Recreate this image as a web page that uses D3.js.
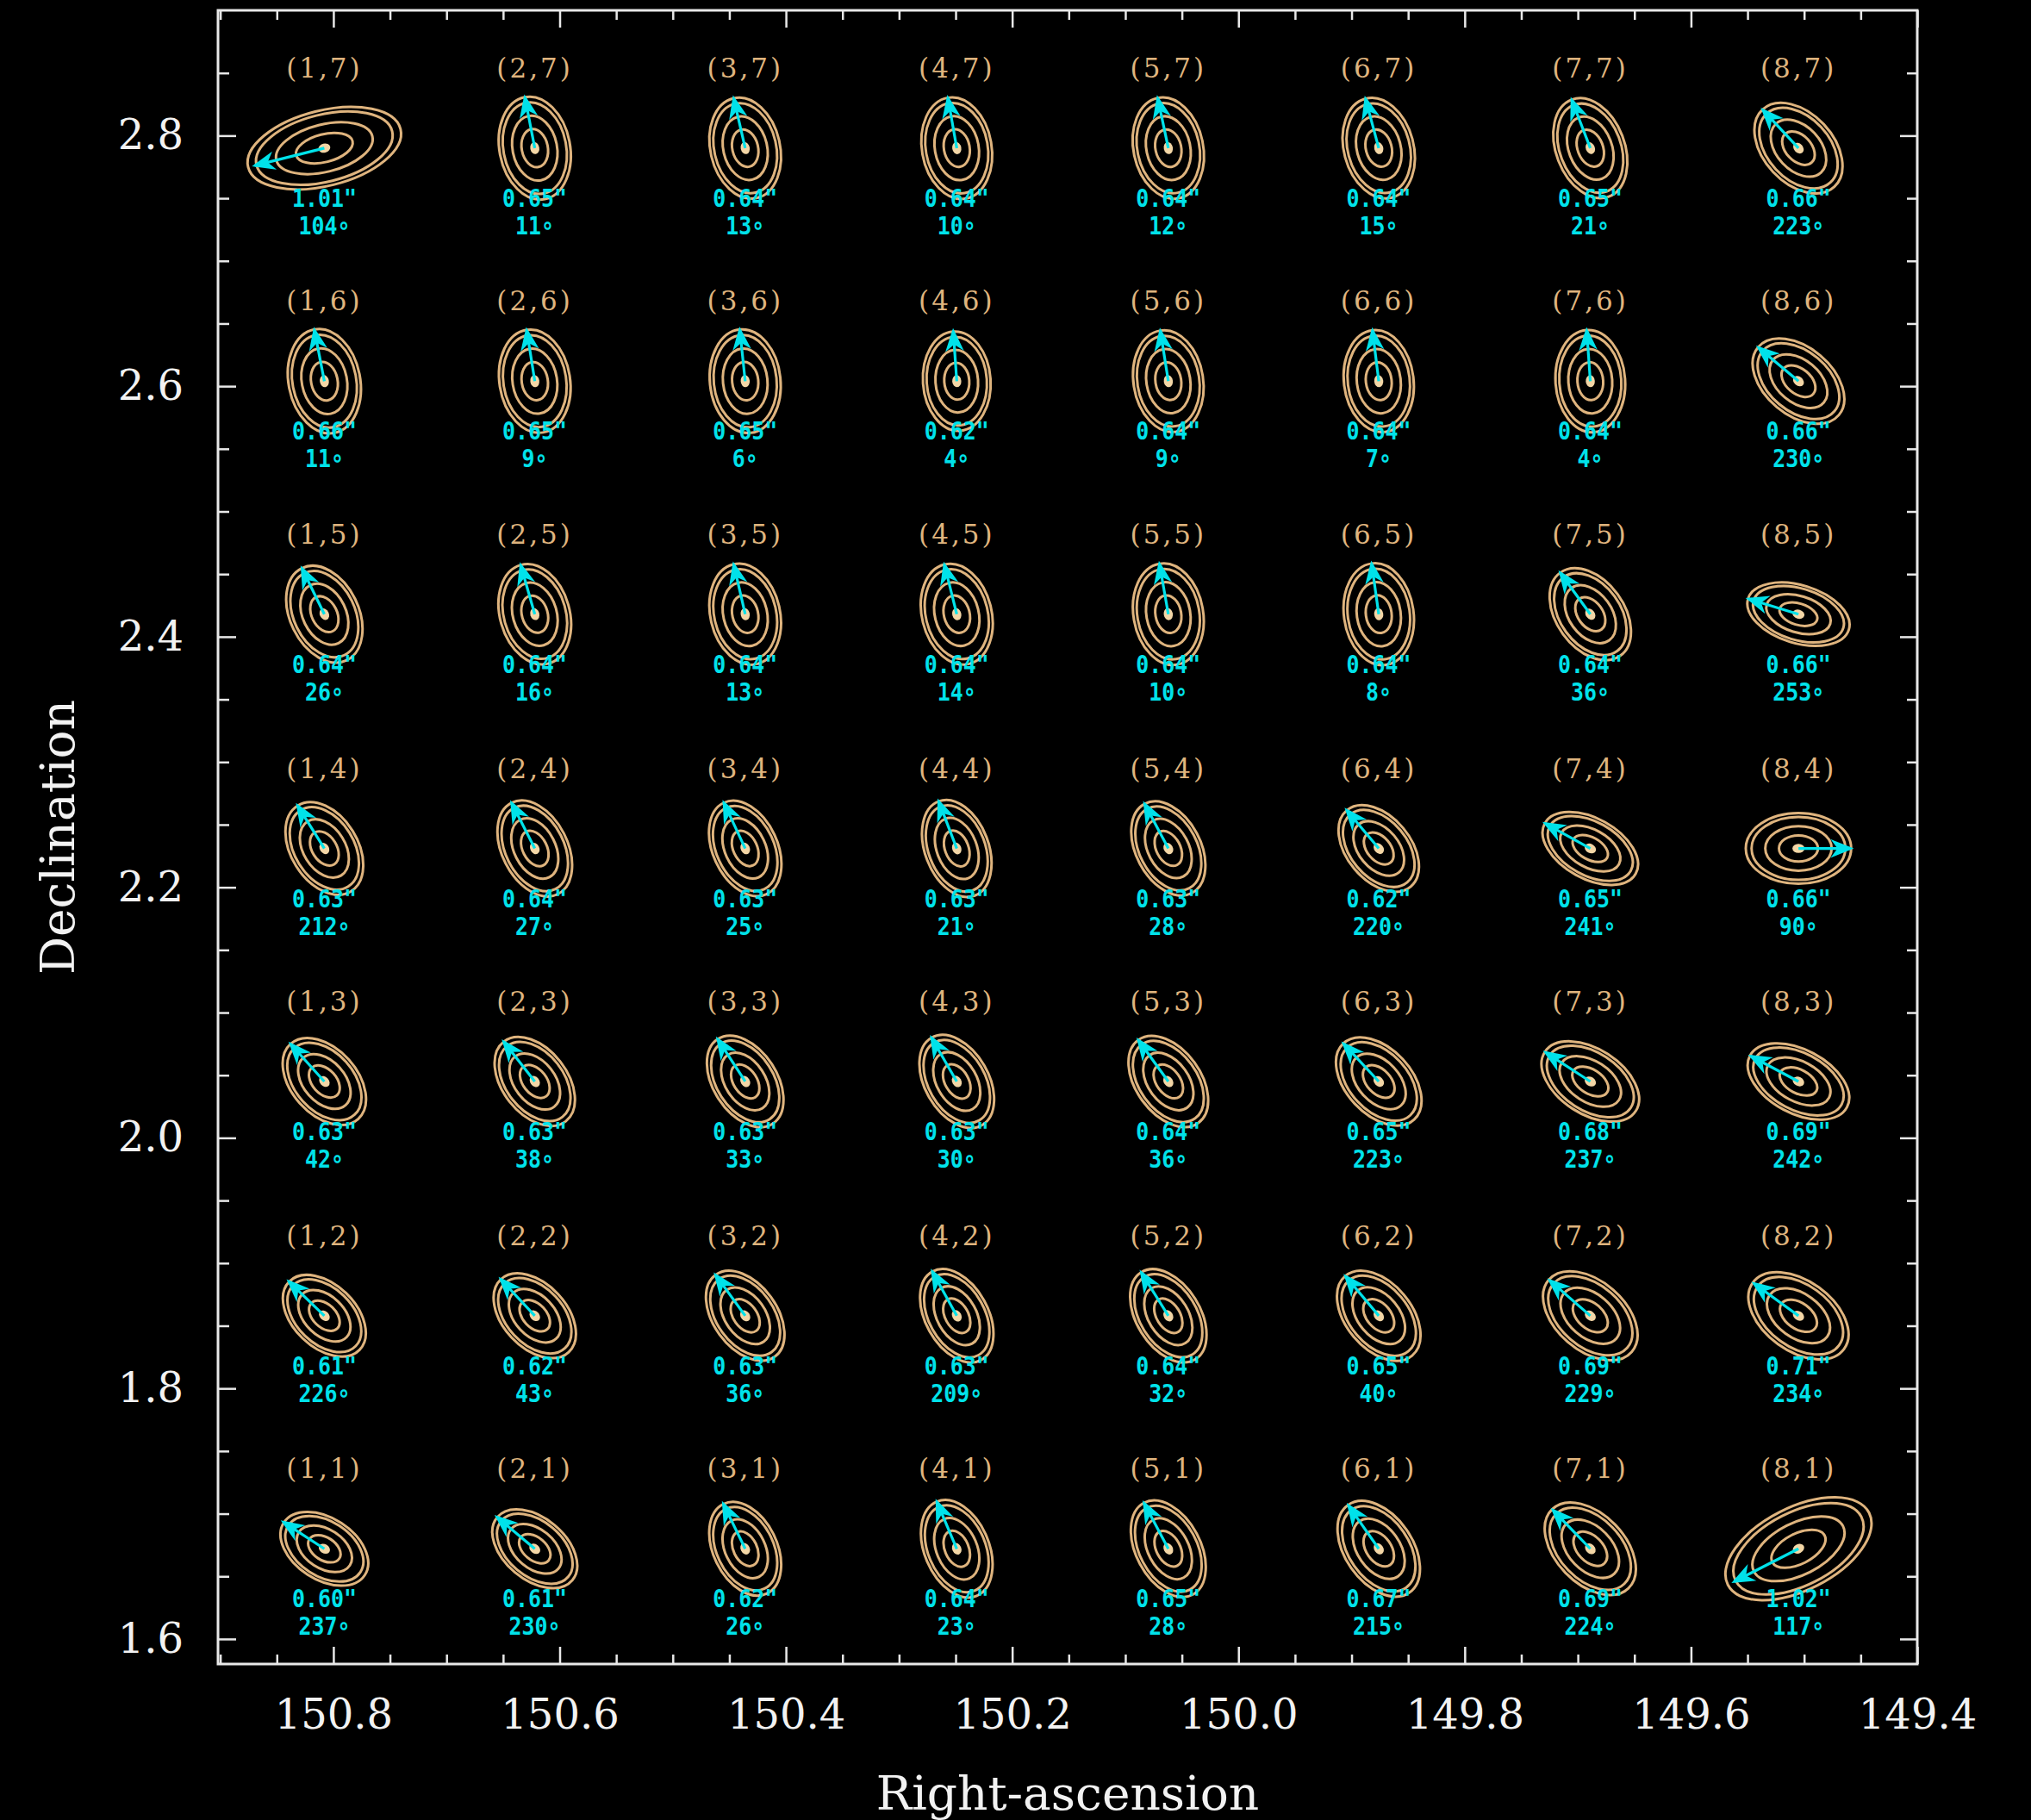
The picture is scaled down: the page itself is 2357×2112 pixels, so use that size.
<!DOCTYPE html>
<html>
<head>
<meta charset="utf-8">
<script src="https://cdn.jsdelivr.net/npm/d3@7"></script>
<style>
  body { margin: 0; background: #000; }
</style>
</head>
<body>
<div class="chart"></div>
<script>
// grid centres in degrees (columns 1..8, rows 1..7)
const raCentres = [150.808, 150.622, 150.436, 150.249, 150.062, 149.876, 149.689, 149.505];
const decCentres = [1.672, 1.858, 2.045, 2.231, 2.418, 2.604, 2.790];

// PSF FWHM in arcsec, one row per declination row (row 1 first), columns 1..8
const fwhm = [
    [0.60, 0.61, 0.62, 0.64, 0.65, 0.67, 0.69, 1.02],
    [0.61, 0.62, 0.63, 0.63, 0.64, 0.65, 0.69, 0.71],
    [0.63, 0.63, 0.63, 0.63, 0.64, 0.65, 0.68, 0.69],
    [0.63, 0.64, 0.63, 0.63, 0.63, 0.62, 0.65, 0.66],
    [0.64, 0.64, 0.64, 0.64, 0.64, 0.64, 0.64, 0.66],
    [0.66, 0.65, 0.65, 0.62, 0.64, 0.64, 0.64, 0.66],
    [1.01, 0.65, 0.64, 0.64, 0.64, 0.64, 0.65, 0.66]
];

// position angle in degrees
const posAngle = [
    [237, 230, 26, 23, 28, 215, 224, 117],
    [226, 43, 36, 209, 32, 40, 229, 234],
    [42, 38, 33, 30, 36, 223, 237, 242],
    [212, 27, 25, 21, 28, 220, 241, 90],
    [26, 16, 13, 14, 10, 8, 36, 253],
    [11, 9, 6, 4, 9, 7, 4, 230],
    [104, 11, 13, 10, 12, 15, 21, 223]
];

// minor/major axis ratio of the contours
const axisRatio = [
    [0.64, 0.63, 0.64, 0.63, 0.62, 0.63, 0.63, 0.52],
    [0.64, 0.64, 0.63, 0.62, 0.62, 0.63, 0.63, 0.62],
    [0.65, 0.64, 0.63, 0.63, 0.63, 0.63, 0.60, 0.58],
    [0.66, 0.64, 0.64, 0.63, 0.64, 0.64, 0.58, 0.67],
    [0.67, 0.68, 0.68, 0.68, 0.68, 0.68, 0.66, 0.55],
    [0.68, 0.68, 0.68, 0.68, 0.68, 0.68, 0.68, 0.64],
    [0.48, 0.68, 0.68, 0.68, 0.68, 0.68, 0.66, 0.66]
];

// arrows drawn the other way round
const flippedArrows = ["8,4"];

const xMajorTicks = [150.8, 150.6, 150.4, 150.2, 150.0, 149.8, 149.6, 149.4];
const yMajorTicks = [1.6, 1.8, 2.0, 2.2, 2.4, 2.6, 2.8];

const contourLevels = [1, 0.89, 0.63, 0.37];

// svg
const W = 2357, H = 2112;
const frame = {left: 253, right: 2225, top: 12, bottom: 1931};

const svg = d3.select(".chart").append("svg")
    .attr("width", W)
    .attr("height", H)
    .style("display", "block")
    .style("background", "#000");

const x = d3.scaleLinear().domain([150.902, 149.4]).range([frame.left, frame.right]);
const y = d3.scaleLinear().domain([1.58, 2.9]).range([frame.bottom, frame.top]);

const sizeScale = d3.scaleLinear().domain([0.60, 1.02]).range([56, 92]);
const arrowScale = d3.scaleLinear().domain([0.60, 1.02]).range([57, 84]);

const tan = "#dfb47e";
const cyan = "#00e2ea";
const axisColor = "#e8e8e8";

// build cells
const cells = [];
decCentres.forEach((dec, r) => {
    raCentres.forEach((ra, c) => {
        cells.push({
            col: c + 1, row: r + 1, ra, dec,
            fwhm: fwhm[r][c], pa: posAngle[r][c], q: axisRatio[r][c]
        });
    });
});

function direction(d) {
    const phi = (d.pa % 180) * Math.PI / 180;
    let dx = -Math.sin(phi), dy = -Math.cos(phi);
    if (flippedArrows.includes(d.col + "," + d.row)) { dx = -dx; dy = -dy; }
    return Math.atan2(dy, dx) * 180 / Math.PI;
}

// axes
function styleAxis(g) {
    g.select(".domain").remove();
    g.attr("color", axisColor)
        .attr("font-family", "DejaVu Serif")
        .attr("font-size", 48);
    g.selectAll(".tick line").attr("stroke-width", 2.5);
    g.selectAll(".tick text").attr("fill", "#f2f2f2");
}

const xMinor = d3.range(149.45, 150.9, 0.05).filter(v => !xMajorTicks.some(m => Math.abs(m - v) < 1e-6));
const yMinor = d3.range(1.6, 2.9, 0.05).filter(v => !yMajorTicks.some(m => Math.abs(m - v) < 1e-6));

svg.append("g").attr("transform", `translate(0,${frame.bottom})`)
    .call(d3.axisBottom(x).tickValues(xMajorTicks).tickSize(-20).tickPadding(41).tickFormat(d3.format(".1f")))
    .call(styleAxis);
svg.append("g").attr("transform", `translate(0,${frame.bottom})`)
    .call(d3.axisBottom(x).tickValues(xMinor).tickSize(-11).tickFormat(""))
    .call(styleAxis);
svg.append("g").attr("transform", `translate(0,${frame.top})`)
    .call(d3.axisTop(x).tickValues(xMajorTicks).tickSize(-20).tickFormat(""))
    .call(styleAxis);
svg.append("g").attr("transform", `translate(0,${frame.top})`)
    .call(d3.axisTop(x).tickValues(xMinor).tickSize(-11).tickFormat(""))
    .call(styleAxis);

svg.append("g").attr("transform", `translate(${frame.left},0)`)
    .call(d3.axisLeft(y).tickValues(yMajorTicks).tickSize(-21).tickPadding(40).tickFormat(d3.format(".1f")))
    .call(styleAxis);
svg.append("g").attr("transform", `translate(${frame.left},0)`)
    .call(d3.axisLeft(y).tickValues(yMinor).tickSize(-13).tickFormat(""))
    .call(styleAxis);
svg.append("g").attr("transform", `translate(${frame.right},0)`)
    .call(d3.axisRight(y).tickValues(yMajorTicks).tickSize(-20).tickFormat(""))
    .call(styleAxis);
svg.append("g").attr("transform", `translate(${frame.right},0)`)
    .call(d3.axisRight(y).tickValues(yMinor).tickSize(-12).tickFormat(""))
    .call(styleAxis);

// frame
svg.append("rect")
    .attr("x", frame.left).attr("y", frame.top)
    .attr("width", frame.right - frame.left)
    .attr("height", frame.bottom - frame.top)
    .attr("fill", "none")
    .attr("stroke", axisColor)
    .attr("stroke-width", 3);

// axis titles
svg.append("text")
    .attr("x", (frame.left + frame.right) / 2)
    .attr("y", 2100)
    .attr("text-anchor", "middle")
    .attr("font-family", "DejaVu Serif")
    .attr("font-size", 55)
    .attr("fill", "#f2f2f2")
    .text("Right-ascension");

svg.append("text")
    .attr("transform", `translate(86,${(frame.top + frame.bottom) / 2}) rotate(-90)`)
    .attr("text-anchor", "middle")
    .attr("font-family", "DejaVu Serif")
    .attr("font-size", 55)
    .attr("fill", "#f2f2f2")
    .text("Declination");

// cells
const cell = svg.append("g")
    .selectAll("g")
    .data(cells)
    .join("g")
    .attr("transform", d => `translate(${x(d.ra)},${y(d.dec)})`);

// rotated group for contours and arrow
const rot = cell.append("g")
    .attr("transform", d => `rotate(${direction(d)})`);

rot.selectAll("ellipse")
    .data(d => contourLevels.map(f => ({a: sizeScale(d.fwhm) * f, q: d.q})))
    .join("ellipse")
    .attr("rx", e => e.a)
    .attr("ry", e => e.a * e.q)
    .attr("fill", "none")
    .attr("stroke", tan)
    .attr("stroke-width", 3);

rot.append("ellipse")
    .attr("rx", 7)
    .attr("ry", d => 7 * Math.max(d.q, 0.75))
    .attr("fill", "#f3d6a6");

// arrows
rot.append("line")
    .attr("x1", 0).attr("y1", 0)
    .attr("x2", d => arrowScale(d.fwhm)).attr("y2", 0)
    .attr("stroke", cyan)
    .attr("stroke-width", 3.2);

rot.append("path")
    .attr("d", d => {
        const L = arrowScale(d.fwhm);
        return `M${L - 20},-8L${L},0L${L - 20},8L${L - 14},0Z`;
    })
    .attr("fill", cyan)
    .attr("stroke", cyan)
    .attr("stroke-width", 2.5)
    .attr("stroke-linejoin", "miter");

// grid labels
cell.append("text")
    .attr("y", -82)
    .attr("text-anchor", "middle")
    .attr("font-family", "DejaVu Serif")
    .attr("font-size", 31)
    .attr("letter-spacing", 3)
    .attr("fill", tan)
    .text(d => `(${d.col},${d.row})`);

// fwhm and angle labels
cell.append("text")
    .attr("transform", "translate(0,68) scale(0.86,1)")
    .attr("text-anchor", "middle")
    .attr("font-family", "DejaVu Sans Mono")
    .attr("font-weight", "bold")
    .attr("font-size", 29)
    .attr("fill", cyan)
    .text(d => d.fwhm.toFixed(2) + "\"");

cell.append("text")
    .attr("transform", "translate(0,100) scale(0.86,1)")
    .attr("text-anchor", "middle")
    .attr("font-family", "DejaVu Sans Mono")
    .attr("font-weight", "bold")
    .attr("font-size", 29)
    .attr("fill", cyan)
    .text(d => d.pa + "\u2218");
</script>
</body>
</html>
